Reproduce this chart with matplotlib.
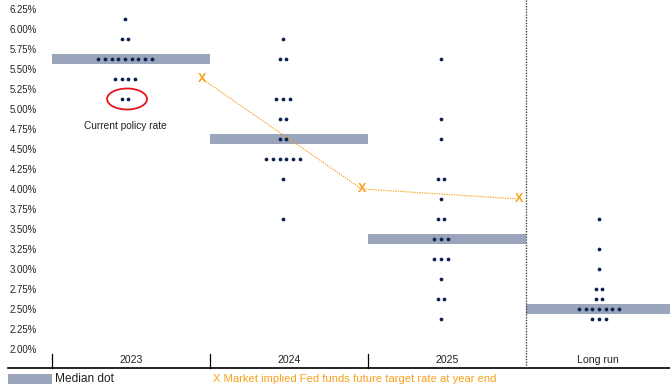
import matplotlib
matplotlib.use("Agg")
import matplotlib.pyplot as plt
from matplotlib.patches import Ellipse, Rectangle

plt.rcParams['font.family'] = ['Liberation Sans', 'DejaVu Sans']

# FOMC participants' projections (dot plot)
categories = ["2023", "2024", "2025", "Long run"]
dot_levels = [
    [6.125, 5.875, 5.625, 5.375, 5.125],
    [5.875, 5.625, 5.125, 4.875, 4.625, 4.375, 4.125, 3.625],
    [5.625, 4.875, 4.625, 4.125, 3.875, 3.625, 3.375, 3.125, 2.875, 2.625, 2.375],
    [3.625, 3.25, 3.0, 2.75, 2.625, 2.5, 2.375],
]
dot_counts = [
    [1, 2, 9, 4, 2],
    [1, 2, 3, 2, 2, 6, 1, 1],
    [1, 1, 1, 2, 1, 2, 3, 3, 1, 2, 1],
    [1, 1, 1, 2, 2, 7, 3],
]
median_dots = [5.625, 4.625, 3.375, 2.5]
market_implied = [5.375, 4.0, 3.875]
current_rate = 5.125
y_ticks = [2.00, 2.25, 2.50, 2.75, 3.00, 3.25, 3.50, 3.75, 4.00,
           4.25, 4.50, 4.75, 5.00, 5.25, 5.50, 5.75, 6.00, 6.25]

NAVY = "#0b2152"
BAR = "#9aa4bb"
ORANGE = "#f7a11c"
RED = "#e3161d"

W, H = 670, 385
fig = plt.figure(figsize=(W / 100, H / 100), dpi=100)
ax = fig.add_axes([52 / W, 17 / H, 618 / W, 368 / H])

x_max = 3 + 144 / 158
y_min, y_max = 1.7625, 6.3625
ax.set_xlim(0, x_max)
ax.set_ylim(y_min, y_max)

# median bars spanning each category
bar_h = 0.125
for i, m in enumerate(median_dots):
    right = min(i + 1, x_max)
    ax.add_patch(Rectangle((i, m - bar_h / 2), right - i, bar_h,
                           facecolor=BAR, edgecolor="none", zorder=2))

# dots
col_off = 0.462
spacing = 0.042
xs, ys = [], []
for i, (levels, counts) in enumerate(zip(dot_levels, dot_counts)):
    for lvl, n in zip(levels, counts):
        for k in range(n):
            xs.append(i + col_off + (k - (n - 1) / 2) * spacing)
            ys.append(lvl)
ax.plot(xs, ys, linestyle="none", marker="o", markersize=2.7,
        color=NAVY, markeredgewidth=0, zorder=4)

# market implied path
mx = [0.95, 1.96, 2.955]
ax.plot(mx, market_implied, color=ORANGE, linewidth=0.8,
        linestyle=(0, (1.2, 1.0)), zorder=3)
for x, y in zip(mx, market_implied):
    ax.text(x, y, "X", color=ORANGE, fontsize=9, fontweight="bold",
            ha="center", va="center", zorder=5)

# current policy rate highlight
ax.add_patch(Ellipse((0.475, current_rate), width=0.253, height=0.2625,
                     fill=False, edgecolor=RED, linewidth=1.3, zorder=5))
ax.text(0.462, 4.79, "Current policy rate", fontsize=7.3, color="#222222",
        ha="center", va="center")

# axes styling
for s in ax.spines.values():
    s.set_visible(False)
ax.set_yticks(y_ticks)
ax.set_yticklabels([f"{v:.2f}%" for v in y_ticks], fontsize=6.9,
                   color="#222222")
ax.tick_params(axis="y", length=0, pad=11)
ax.set_xticks([])

# baseline and category separators
ax.plot([-44 / 158, x_max], [y_min, y_min], color="black", linewidth=1.2,
        clip_on=False, zorder=6)
for b in [0, 1, 2]:
    ax.plot([b, b], [y_min, y_min + 0.175], color="black", linewidth=0.9,
            clip_on=False, zorder=6)
ax.plot([3, 3], [y_min, y_max], color="#444444", linewidth=1.0,
        linestyle=(0, (1, 1)), zorder=6)

label_x = [0.5, 1.5, 2.5, 3 + 72 / 158]
for x, c in zip(label_x, categories):
    ax.text(x, y_min + 0.1, c, fontsize=7.6, color="#222222",
            ha="center", va="center")

# legend below the axis
fig.add_artist(Rectangle((8 / W, 1 / H), 44 / W, 10 / H,
                         transform=fig.transFigure, facecolor=BAR,
                         edgecolor="none"))
fig.text(55 / W, 6 / H, "Median dot", fontsize=8.6, color="#222222",
         ha="left", va="center")
fig.text(213 / W, 6 / H,
         "X Market implied Fed funds future target rate at year end",
         fontsize=8.1, color=ORANGE, ha="left", va="center")

fig.savefig("out.png", dpi=100)
